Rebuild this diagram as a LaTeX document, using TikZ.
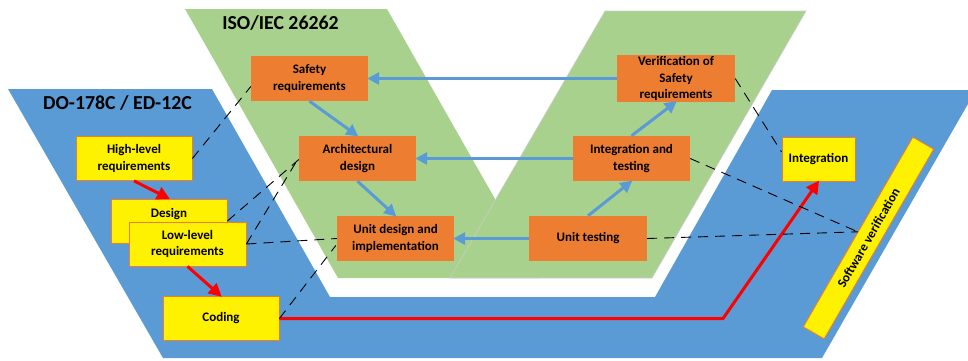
\documentclass[tikz,border=0pt]{standalone}
\usepackage{fontspec}
\setmainfont{Carlito}
\usetikzlibrary{arrows.meta,calc}

\definecolor{doblue}{HTML}{5B9BD5}
\definecolor{isogreen}{HTML}{A9D18E}
\definecolor{isoorange}{HTML}{ED7D31}
\definecolor{flowblue}{HTML}{5B9BD5}

\tikzset{
  boxtext/.style={font=\bfseries\fontsize{13}{16.5}\selectfont, align=center, inner sep=1pt},
  ybox/.style={boxtext, rectangle, fill=yellow, draw=isoorange, line width=0.8pt,
               minimum width=116pt, minimum height=44pt},
  obox/.style={boxtext, rectangle, fill=isoorange,
               minimum width=117pt, minimum height=45pt},
  title/.style={font=\bfseries\fontsize{19.8}{23}\selectfont, inner sep=0pt},
  bluearrow/.style={draw=flowblue, line width=3pt,
                    -{Triangle[length=12pt,width=12pt]}, shorten >=-1pt},
  redarrow/.style={draw=red, line width=3pt,
                   -{Triangle[length=13pt,width=13pt]}, shorten >=-1pt},
  trace/.style={draw=black, line width=0.9pt, dash pattern=on 10pt off 7pt},
}

\begin{document}
\begin{tikzpicture}[x=1pt, y=-1pt]
\useasboundingbox (0,0) rectangle (968,360);
\clip (0,0) rectangle (968,360);

% DO-178C / ED-12C U-shaped band
\fill[doblue] (8,89) -- (212,89) -- (330,297) -- (655,297) -- (772,90)
  -- (976,90) -- (822,358) -- (163,358) -- cycle;

% ISO/IEC 26262 V: left and right arms
\fill[isogreen] (185,9) -- (387,9) -- (540,278) -- (338,278) -- cycle;
\filldraw[fill=isogreen, draw=black!20, line width=0.6pt]
  (605,11) -- (806,11) -- (652,278) -- (450,278) -- cycle;

% Titles
\node[title] (dotitle) at (117.5,103) {DO-178C / ED-12C};
\node[title] (isotitle) at (280.5,23) {ISO/IEC 26262};

% DO-178C process boxes
\node[ybox] (hl) at (134,158.5) {High-level\\requirements};
\node[ybox] (design) at (169,221) {Design\\\mbox{}};
\node[ybox, minimum width=117pt] (ll) at (187.5,244) {Low-level\\requirements};
\node[ybox] (coding) at (221,318.5) {Coding};
\node[ybox, minimum width=73pt] (integ) at (818.5,159) {Integration};
\node[ybox, minimum width=219pt, minimum height=24pt, rotate=60] (sv)
  at (868.5,238) {Software verification};

% ISO 26262 V-model boxes
\node[obox] (safety) at (309.5,78.5) {Safety\\requirements};
\node[obox] (arch) at (357.5,158.5) {Architectural\\design};
\node[obox] (unitdes) at (395.5,238.5) {Unit design and\\implementation};
\node[obox, minimum width=118pt] (verif) at (676,78.5)
  {\fontsize{13}{15.5}\selectfont Verification of\\Safety\\requirements};
\node[obox] (inttest) at (631.5,158.5) {Integration and\\testing};
\node[obox, minimum width=118pt] (unittest) at (588,238.5) {Unit testing};

% V-model flow
\draw[bluearrow] (safety.south) -- (arch.north);
\draw[bluearrow] (arch.south) -- (unitdes.north);
\draw[bluearrow] (unittest.north) -- (inttest.south);
\draw[bluearrow] (inttest.north) -- (verif.south);
\draw[bluearrow] (verif.west) -- (safety.east);
\draw[bluearrow] (inttest.west) -- (arch.east);
\draw[bluearrow] (unittest.west) -- (unitdes.east);

% DO-178C flow
\coordinate (bend) at (723,318.5);
\draw[redarrow] (hl.south) -- (design.north);
\draw[redarrow] (ll.south) -- (coding.north);
\draw[redarrow] (coding.east) -- (bend) -- (integ.south);

% Correspondences between the two standards
\draw[trace] (hl.east) -- ($(safety.west)+(0,8)$);
\draw[trace] (design.east) -- ($(arch.west)+(0,1)$);
\draw[trace] (ll.east) -- ($(arch.west)+(-3,4)$);
\draw[trace] (ll.east) -- (unitdes.west);
\draw[trace] (coding.east) -- ($(unitdes.west)+(-1,7)$);
\draw[trace] (verif.east) -- ($(integ.west)+(0,-7)$);
\draw[trace] (inttest.east) -- (sv.north);
\draw[trace] (unittest.east) -- (sv.north);
\end{tikzpicture}
\end{document}
